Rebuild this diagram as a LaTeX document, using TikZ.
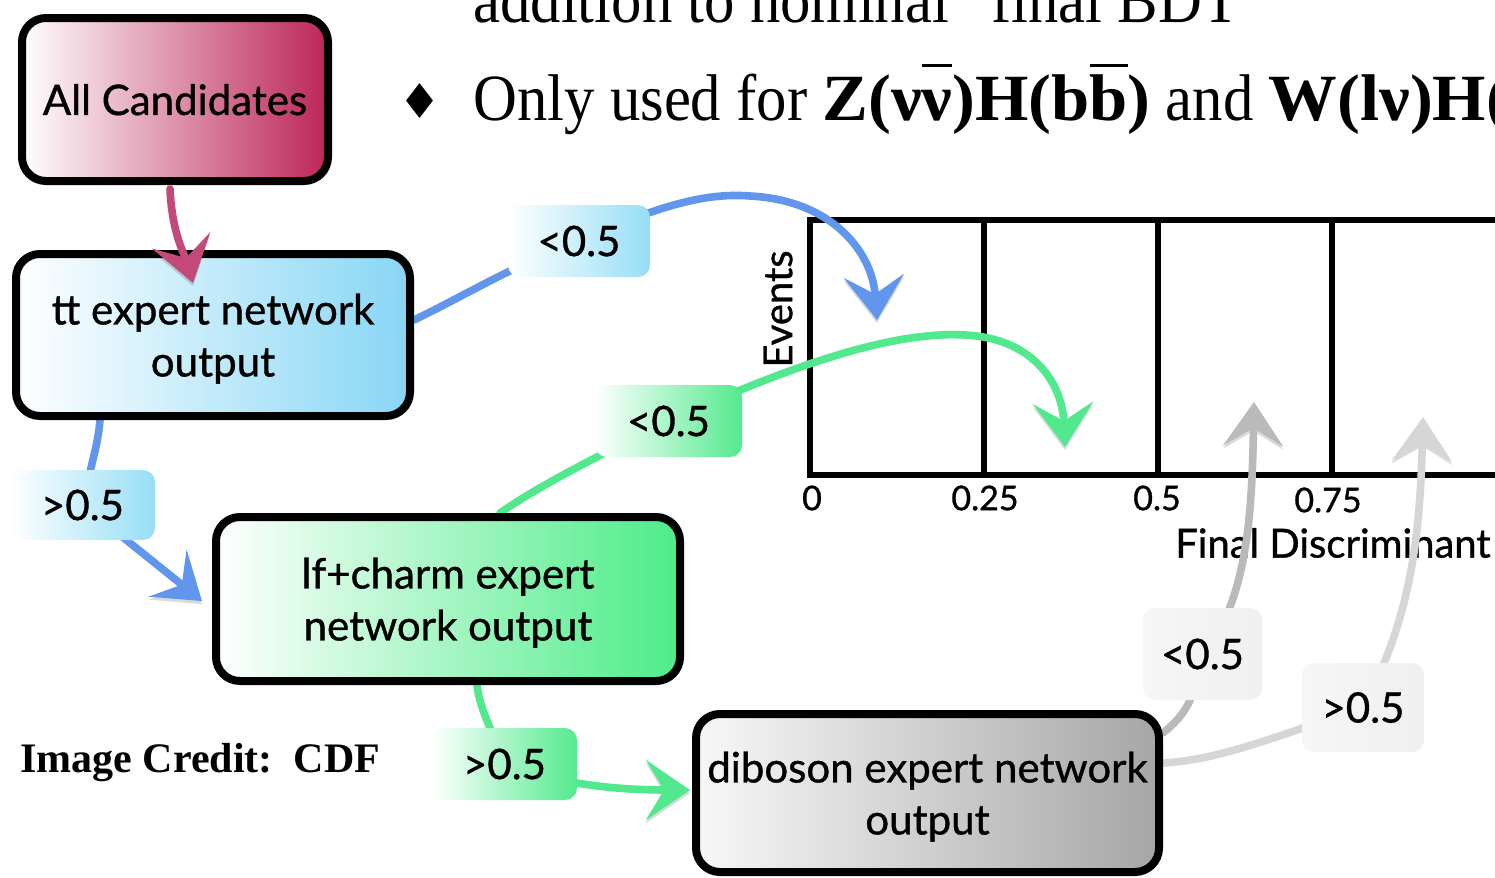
\documentclass[tikz,border=0pt]{standalone}
\usepackage{fontspec}
\setmainfont{Liberation Serif}
\newfontfamily\diagfont[FakeBold=0.9]{Lato}
\newfontfamily\slidefont[FakeStretch=0.92, BoldFeatures={FakeStretch=1.04}]{Liberation Serif}
\newfontfamily\symbfont{DejaVu Sans}
\usetikzlibrary{arrows.meta}

\pgfdeclarelayer{chart}
\pgfdeclarelayer{links}
\pgfdeclarelayer{top}
\pgfsetlayers{chart,links,main,top}

% bar drawn high above a letter (antiparticle mark)
\newcommand\barred[1]{\setbox0\hbox{#1}\rlap{\rule[0.8em]{\wd0}{0.045em}}\box0}

\definecolor{crimson}{RGB}{188,38,88}
\definecolor{sky}{RGB}{135,214,245}
\definecolor{mint}{RGB}{76,236,136}
\definecolor{steel}{RGB}{166,166,166}
\definecolor{skylabel}{RGB}{150,222,246}
\definecolor{mintlabel}{RGB}{84,234,142}
\definecolor{pinkline}{RGB}{196,72,122}
\definecolor{blueline}{RGB}{98,150,236}
\definecolor{greenline}{RGB}{82,232,142}
\definecolor{grayA}{RGB}{186,186,186}
\definecolor{grayB}{RGB}{214,214,214}

\tikzset{
  stage/.style={draw=black, line width=4pt, rounded corners=12pt, inner sep=0pt,
    align=center, text=black, text depth=0pt, font=\diagfont\fontsize{21}{26}\selectfont},
  cut/.style={rounded corners=6pt, inner sep=0pt, text=black,
    font=\diagfont\fontsize{21}{26}\selectfont},
  link/.style={line width=3.8pt, line cap=round,
    preaction={draw=black, opacity=0.15, transform canvas={yshift=-1.5pt}}},
  tip/.style={-{Stealth[length=22pt,width=30pt,inset=9pt]}},
  frameline/.style={line width=2.6pt, line join=miter},
  axislabel/.style={inner sep=0pt, font=\diagfont\fontsize{20}{24}\selectfont},
  ticklabel/.style={inner sep=0pt, font=\diagfont\fontsize{17}{20}\selectfont},
  slide/.style={anchor=base west, inner sep=0pt, font=\slidefont\fontsize{33}{40}\selectfont}
}

\begin{document}
\begin{tikzpicture}[x=0.5pt, y=-0.5pt]
\useasboundingbox (0,0) rectangle (1495,878);
\clip (0,0) rectangle (1495,878);

% ---------- slide text ----------
\begin{pgfonlayer}{chart}
\fill[white] (0,0) rectangle (1495,878);
\end{pgfonlayer}
\node[slide] (line1) at (473,23) {addition to nominal “final BDT”};
\node[anchor=base, inner sep=0pt, font=\symbfont\fontsize{24}{24}\selectfont] (bullet) at (420,118) {♦};
\node[slide] (line2) at (473,120)
  {Only used for \textbf{Z(ν\barred{ν})H(b\barred{b})} and \textbf{W(lν)H(b\barred{b})}};
\node[anchor=base west, inner sep=0pt, font=\bfseries\fontsize{21}{25}\selectfont] (credit)
  at (20,772) {Image Credit:\enspace CDF};

% ---------- histogram of the final discriminant ----------
\begin{pgfonlayer}{chart}
\draw[frameline] (1530,220) -- (810,220) -- (810,475) -- (1530,475);
\foreach \x in {984,1158,1332} \draw[frameline] (\x,220) -- (\x,475);
\node[ticklabel] (t0)  at (812,498)  {0};
\node[ticklabel] (t25) at (985,498)  {0.25};
\node[ticklabel] (t50) at (1157,498) {0.5};
\node[ticklabel] (t75) at (1328,500) {0.75};
\node[axislabel, anchor=east] (xlab) at (1491,543) {Final Discriminant};
\node[axislabel, rotate=90] (ylab) at (778,309) {Events};
\end{pgfonlayer}

% ---------- network stages ----------
\node[stage, left color=white, right color=crimson, minimum width=153pt, minimum height=81.5pt]
  (cand) at (175,99.5) {All Candidates};
\node[stage, left color=white, right color=sky, minimum width=197pt, minimum height=81pt]
  (tt) at (213,335) {tt expert network\\output};
\node[stage, left color=white, right color=mint, minimum width=232pt, minimum height=82pt]
  (lf) at (448,599) {lf+charm expert\\network output};
\node[stage, left color=gray!6, right color=steel, minimum width=231.5pt, minimum height=79pt]
  (dib) at (927.5,793) {diboson expert network\\output};

% ---------- cut labels ----------
\node[cut, left color=white, right color=skylabel, minimum width=71pt, minimum height=36pt]
  (ttlow) at (579,241) {<0.5};
\node[cut, left color=white, right color=skylabel, minimum width=72.5pt, minimum height=35pt]
  (tthigh) at (82.5,505) {>0.5};
\node[cut, left color=white, right color=mintlabel, minimum width=73.5pt, minimum height=36pt]
  (lflow) at (668.5,421) {<0.5};
\node[cut, left color=white, right color=mintlabel, minimum width=72.5pt, minimum height=36pt]
  (lfhigh) at (504.5,764) {>0.5};
\node[cut, left color=gray!7, right color=gray!12, minimum width=59.5pt, minimum height=46pt]
  (diblow) at (1202.5,654) {<0.5};
\node[cut, left color=gray!7, right color=gray!12, minimum width=61pt, minimum height=44.5pt]
  (dibhigh) at (1363,707.5) {>0.5};

% ---------- arrow targets ----------
\coordinate (ttin)    at (193,283);
\coordinate (binA)    at (877,320);
\coordinate (lfin)    at (202,601);
\coordinate (binB)    at (1065,447);
\coordinate (dibin)   at (690,790);
\coordinate (binC)    at (1254,402);
\coordinate (binD)    at (1423,417);

% ---------- connectors ----------
\begin{pgfonlayer}{top}
\draw[link, tip, pinkline] ([xshift=-2.5pt,yshift=-2pt]cand.south)
  .. controls (172,235) and (186,258) .. (ttin);
\end{pgfonlayer}

\begin{pgfonlayer}{links}
% tt expert
\draw[link, blueline] ([yshift=7.5pt]tt.east) .. controls (460,298) and (520,262) .. (ttlow.center);
\draw[link, tip, blueline] (ttlow.center) .. controls (650,210) and (700,192) .. (750,196)
  .. controls (830,200) and (872,250) .. (binA);
\draw[link, blueline] ([xshift=-56.5pt]tt.south) .. controls (98,445) and (92,460) .. (tthigh.center);
\draw[link, tip, blueline] (tthigh.center) .. controls (120,535) and (160,567) .. (lfin);
% lf+charm expert
\draw[link, greenline] ([xshift=26pt]lf.north) .. controls (540,485) and (600,455) .. (lflow.center);
\draw[link, tip, greenline] (lflow.center) .. controls (760,380) and (880,330) .. (965,335)
  .. controls (1030,338) and (1062,380) .. (binB);
\draw[link, greenline] ([xshift=14.5pt]lf.south) .. controls (480,710) and (490,725) .. (lfhigh.center);
\draw[link, tip, greenline] (lfhigh.center) .. controls (560,785) and (620,790) .. (dibin);
% diboson expert
\draw[link, grayA] ([yshift=30pt]dib.east) .. controls (1185,715) and (1195,700) .. (diblow.center);
\draw[link, tip, grayA] (diblow.center) .. controls (1250,600) and (1252,500) .. (binC);
\draw[link, grayB] ([yshift=15pt]dib.east) .. controls (1220,760) and (1280,735) .. (dibhigh.center);
\draw[link, tip, grayB] (dibhigh.center) .. controls (1410,620) and (1420,540) .. (binD);
\end{pgfonlayer}
\end{tikzpicture}
\end{document}
